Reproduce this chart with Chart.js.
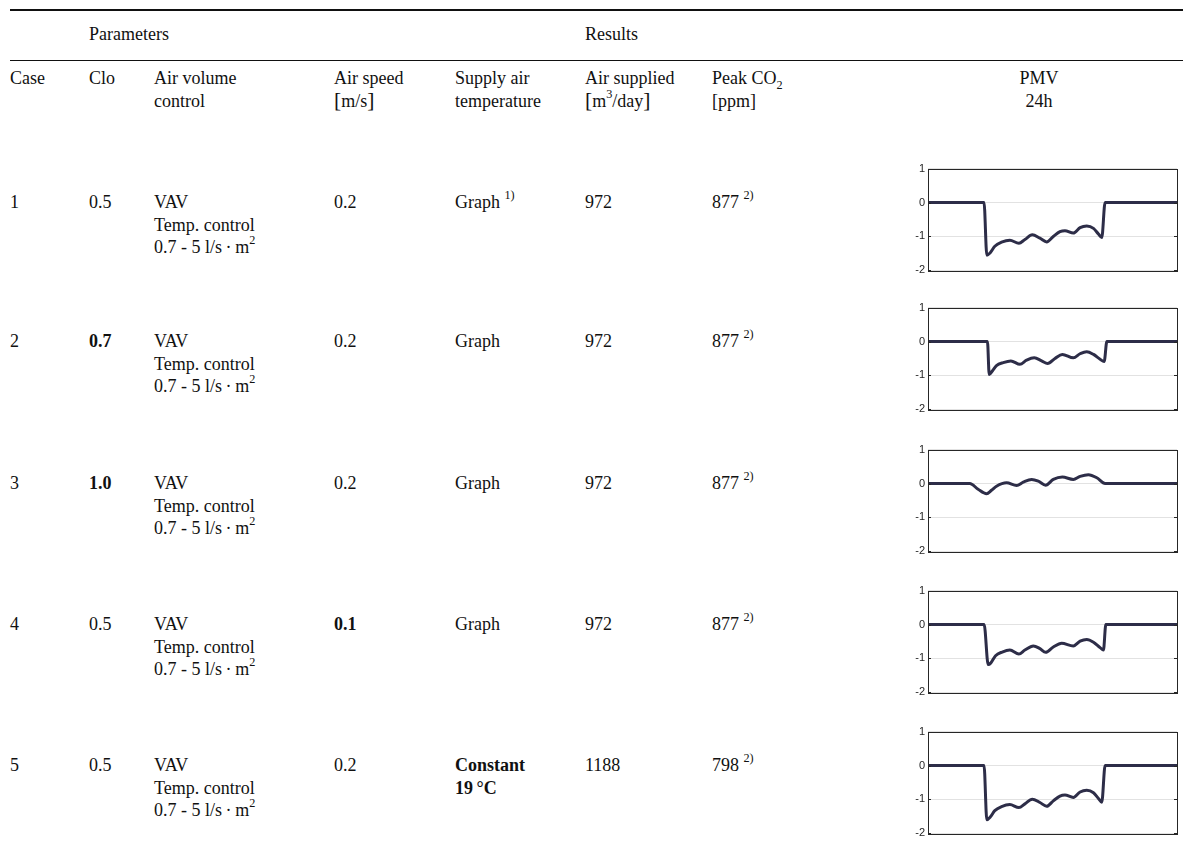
<!DOCTYPE html>
<html>
<head>
<meta charset="utf-8">
<script src="https://cdn.jsdelivr.net/npm/chart.js@4.4.0/dist/chart.umd.min.js"></script>
<style>
    body { margin: 0; background: #fff; }
    #page { position: relative; width: 1183px; height: 858px; overflow: hidden;
            font-family: "Liberation Serif", "DejaVu Serif", serif; font-size: 18px; color: #111; }
    .cell { position: absolute; line-height: 22.5px; white-space: nowrap; }
    .rule { position: absolute; left: 10px; right: 0; background: #111; }
    sup { font-size: 0.68em; line-height: 0; position: relative; top: -0.15em; }
    sub { font-size: 0.68em; line-height: 0; }
    .big { font-size: 1.2em; line-height: 0; }
    canvas { position: absolute; }
</style>
</head>
<body>
<div id="page">
    <div class="rule" style="top: 9px; height: 2px;"></div>
    <div class="rule" style="top: 60px; height: 1px;"></div>
</div>

<script>
// Table values
const caseNumbers = ['1', '2', '3', '4', '5']
const cloValues = ['0.5', '0.7', '1.0', '0.5', '0.5']
const cloBold = [false, true, true, false, false]
const airVolumeControl = ['VAV<br>Temp. control<br>0.7 - 5 l/s\u2009\u00b7\u2009m<sup>2</sup>']
const airSpeeds = ['0.2', '0.2', '0.2', '0.1', '0.2']
const airSpeedBold = [false, false, false, true, false]
const supplyAirTemps = ['Graph <sup>1)</sup>', 'Graph', 'Graph', 'Graph', 'Constant<br>19\u2009\u00b0C']
const supplyAirBold = [false, false, false, false, true]
const airSupplied = ['972', '972', '972', '972', '1188']
const peakCo2 = ['877', '877', '877', '877', '798']

// PMV over 24h, hours + values
const case1Hours = [0, 5.4, 5.67, 6.0, 6.44, 7.09, 7.89, 8.76, 9.34, 10.05, 10.79, 11.44, 12.08, 12.72, 13.2, 14.01, 14.66, 15.3, 15.95, 16.43, 16.75, 17.07, 24]
const case1Pmv = [0, 0, -1.55, -1.48, -1.29, -1.17, -1.11, -1.2, -1.09, -0.95, -1.05, -1.16, -1.0, -0.86, -0.83, -0.9, -0.74, -0.69, -0.76, -0.93, -1.03, 0, 0]

const case2Hours = [0, 5.73, 5.9, 6.22, 6.6, 7.25, 7.99, 8.86, 9.5, 10.24, 10.95, 11.53, 12.24, 12.95, 14.01, 14.66, 15.3, 15.95, 16.59, 16.98, 17.24, 24]
const case2Pmv = [0, 0, -0.97, -0.86, -0.71, -0.62, -0.57, -0.67, -0.55, -0.48, -0.57, -0.65, -0.5, -0.38, -0.48, -0.36, -0.3, -0.38, -0.52, -0.59, 0, 0]

const case3Hours = [0, 4.03, 4.83, 5.64, 6.12, 6.6, 7.57, 8.54, 9.18, 9.99, 10.63, 11.34, 12.08, 12.95, 14.01, 14.66, 15.46, 16.27, 17.07, 24]
const case3Pmv = [0, 0, -0.17, -0.3, -0.2, -0.08, 0.02, -0.06, 0.04, 0.12, 0.07, -0.05, 0.12, 0.19, 0.12, 0.21, 0.26, 0.17, 0.0, 0]

const case4Hours = [0, 5.41, 5.8, 6.06, 6.51, 7.15, 7.89, 8.76, 9.34, 10.15, 10.79, 11.34, 12.08, 12.88, 14.01, 14.66, 15.3, 15.95, 16.59, 16.91, 17.14, 24]
const case4Pmv = [0, 0, -1.18, -1.13, -0.92, -0.81, -0.75, -0.87, -0.75, -0.63, -0.71, -0.82, -0.66, -0.55, -0.63, -0.49, -0.44, -0.52, -0.68, -0.75, 0, 0]

const case5Hours = [0, 5.4, 5.67, 6.0, 6.44, 7.09, 7.89, 8.76, 9.34, 10.05, 10.79, 11.44, 12.08, 12.72, 13.2, 14.01, 14.66, 15.3, 15.95, 16.43, 16.75, 17.07, 24]
const case5Pmv = [0, 0, -1.6, -1.52, -1.33, -1.21, -1.15, -1.24, -1.13, -0.99, -1.09, -1.2, -1.04, -0.9, -0.87, -0.94, -0.78, -0.73, -0.8, -0.97, -1.08, 0, 0]

const pmvHours = [case1Hours, case2Hours, case3Hours, case4Hours, case5Hours]
const pmvValues = [case1Pmv, case2Pmv, case3Pmv, case4Pmv, case5Pmv]
const pmvTicks = [1, 0, -1, -2]

const colX = [10, 89, 154, 334, 455, 585, 712]
const rowCenters = [202, 341, 483, 624, 765]

const page = document.getElementById('page')

function addCell(x, y, html, bold, extraStyle) {
    const div = document.createElement('div')
    div.className = 'cell'
    div.style.left = x + 'px'
    div.style.top = (y - 11) + 'px'
    if (bold) div.style.fontWeight = 'bold'
    if (extraStyle) div.style.cssText += extraStyle
    div.innerHTML = html
    page.appendChild(div)
}

///////////////////////////////////////
// Header
addCell(89, 34, 'Parameters')
addCell(585, 34, 'Results')
addCell(colX[0], 78, 'Case')
addCell(colX[1], 78, 'Clo')
addCell(colX[2], 78, 'Air volume<br>control')
addCell(colX[3], 78, 'Air speed<br><span class="big">[</span>m/s<span class="big">]</span>')
addCell(colX[4], 78, 'Supply air<br>temperature')
addCell(colX[5], 78, 'Air supplied<br><span class="big">[</span>m<sup>3</sup>/day<span class="big">]</span>')
addCell(colX[6], 78, 'Peak CO<sub>2</sub><br>[ppm]')
addCell(1000, 78, 'PMV<br>24h', false, 'width: 78px; text-align: center;')

///////////////////////////////////////
// Rows
for (let i = 0; i < caseNumbers.length; i++) {
    const y = rowCenters[i]
    addCell(colX[0], y, caseNumbers[i])
    addCell(colX[1], y, cloValues[i], cloBold[i])
    addCell(colX[2], y, airVolumeControl[0])
    addCell(colX[3], y, airSpeeds[i], airSpeedBold[i])
    addCell(colX[4], y, supplyAirTemps[i], supplyAirBold[i])
    addCell(colX[5], y, airSupplied[i])
    addCell(colX[6], y, peakCo2[i] + ' <sup>2)</sup>')
}

///////////////////////////////////////
// Box round the plot area, with small inward ticks like the original
const boxPlugin = {
    id: 'boxPlugin',
    afterDraw: function(chart) {
        const ctx = chart.ctx
        const a = chart.chartArea
        const yScale = chart.scales.y
        ctx.save()
        ctx.strokeStyle = '#262626'
        ctx.lineWidth = 1
        ctx.strokeRect(Math.round(a.left) + 0.5, Math.round(a.top) + 0.5,
            Math.round(a.right - a.left), Math.round(a.bottom - a.top))
        pmvTicks.forEach(function(t) {
            const py = Math.round(yScale.getPixelForValue(t)) + 0.5
            ctx.beginPath()
            ctx.moveTo(a.left, py); ctx.lineTo(a.left + 3, py)
            ctx.moveTo(a.right, py); ctx.lineTo(a.right - 3, py)
            ctx.stroke()
        })
        ctx.restore()
    }
}

for (let i = 0; i < pmvValues.length; i++) {
    const canvas = document.createElement('canvas')
    const chartTop = rowCenters[i] - 35
    canvas.width = 288
    canvas.height = 121
    canvas.style.left = '895px'
    canvas.style.top = (chartTop - 8) + 'px'
    canvas.style.width = '288px'
    canvas.style.height = '121px'
    page.appendChild(canvas)

    const points = pmvHours[i].map(function(h, k) { return { x: h, y: pmvValues[i][k] } })

    new Chart(canvas, {
        type: 'line',
        data: {
            datasets: [{
                data: points,
                borderColor: '#2d2d48',
                borderWidth: 3,
                pointRadius: 0,
                cubicInterpolationMode: 'monotone',
                fill: false,
            }]
        },
        options: {
            responsive: false,
            animation: false,
            layout: { padding: { top: 8, bottom: 8, right: 6, left: 0 } },
            plugins: { legend: { display: false }, tooltip: { enabled: false } },
            scales: {
                x: { type: 'linear', min: 0, max: 24, display: false },
                y: {
                    min: -2, max: 1,
                    afterFit: function(scale) { scale.width = 33 },
                    ticks: {
                        stepSize: 1,
                        padding: 3,
                        color: '#262626',
                        font: { family: 'Liberation Sans, Arial, sans-serif', size: 11 },
                    },
                    grid: { color: '#e2e2e2', drawTicks: false },
                    border: { display: false },
                }
            }
        },
        plugins: [boxPlugin]
    })
}
</script>
</body>
</html>
